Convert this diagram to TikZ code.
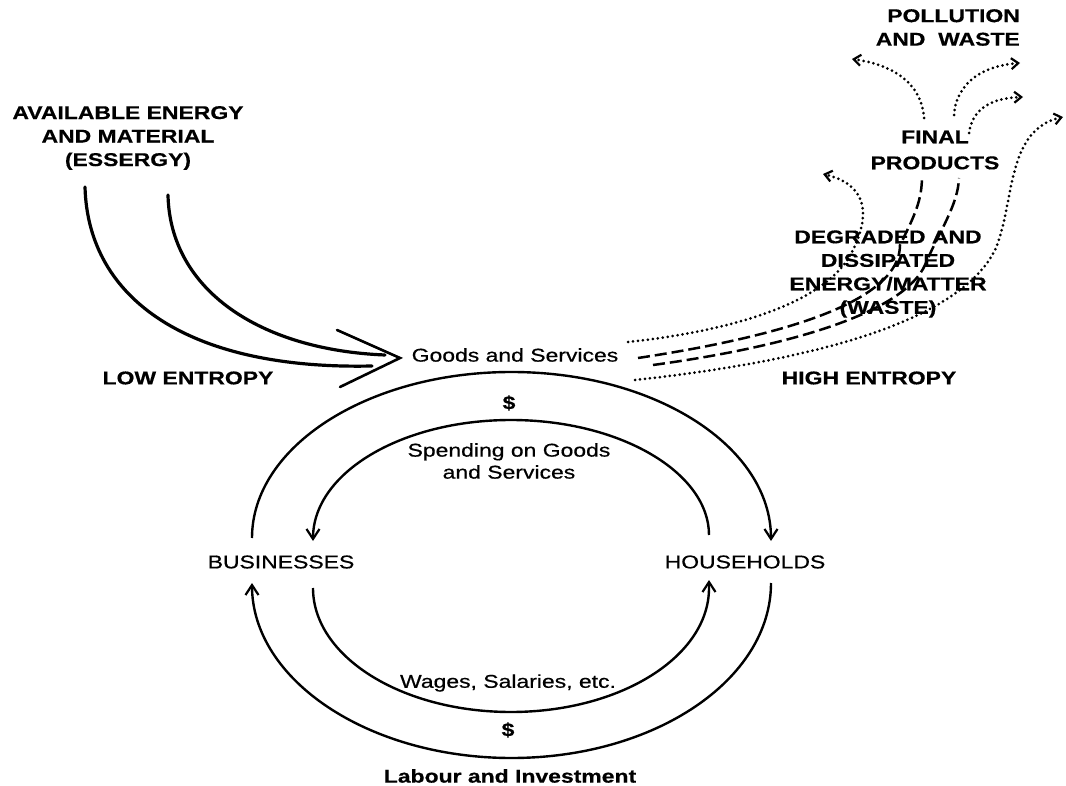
\documentclass[tikz,border=0pt]{standalone}
\usepackage{fontspec}
\setmainfont{Liberation Sans}[FakeStretch=1.24,BoldFeatures={FakeBold=0.5}]
\newfontfamily\heavyfont{Liberation Sans}[FakeStretch=1.24,FakeBold=0.6]
\usetikzlibrary{arrows.meta}
\begin{document}
\begin{tikzpicture}[x=1pt,y=-1pt,
  lbl/.style={font=\fontsize{18.5}{23.5}\selectfont\bfseries,align=center,inner sep=0pt},
  txt/.style={font=\fontsize{18.5}{22}\selectfont\heavyfont,align=center,inner sep=0pt},
  inflow/.style={line width=3.2pt,line cap=round},
  chev/.style={line width=2.6pt,line cap=round,line join=miter},
  loop/.style={line width=2.4pt,-{Straight Barb[length=10pt,width=13pt,line width=2.2pt]}},
  dotline/.style={line width=3pt,line cap=round,dash pattern=on 0pt off 5pt,-{Straight Barb[length=7pt,width=11pt,line width=2.2pt]}},
  dashline/.style={line width=2.5pt,dash pattern=on 12pt off 5pt},
]
\useasboundingbox (0,0) rectangle (1066,786);

% text nodes
\node[lbl] (avail) at (128,138) {AVAILABLE ENERGY\\AND MATERIAL\\(ESSERGY)};
\node[lbl] (low) at (188,378) {LOW ENTROPY};
\node[txt] (goods) at (515,355) {Goods and Services};
\node[lbl] (high) at (869,378) {HIGH ENTROPY};
\node[lbl,align=right,anchor=east] (poll) at (1020,27.5) {POLLUTION\\AND\ \ WASTE};
\node[lbl,font=\fontsize{18.5}{26}\selectfont\bfseries] (final) at (935,150) {FINAL\\PRODUCTS};
\node[lbl] (degr) at (888,274) {DEGRADED AND\\DISSIPATED\\ENERGY/MATTER\\(WASTE)};
\node[lbl] (d1) at (509,403) {\$};
\node[txt] (spend) at (509,461) {Spending on Goods\\and Services};
\node[txt] (bus) at (281,562) {BUSINESSES};
\node[txt] (hh) at (745,562) {HOUSEHOLDS};
\node[txt] (wages) at (508,683) {Wages, Salaries, etc.};
\node[lbl] (d2) at (508,730) {\$};
\node[lbl] (labour) at (510,776) {Labour and Investment};

% inflow of low-entropy energy
\coordinate (srcA) at (85,187);
\coordinate (srcB) at (168,195);
\coordinate (tip) at (400,358);
\coordinate (chevU) at (337,330);
\coordinate (chevL) at (340,387);
\draw[inflow] (srcA) .. controls (88,300) and (190,370) .. (372,366);
\draw[inflow] (srcB) .. controls (170,290) and (260,350) .. (385,355);
\draw[chev] (chevU) -- (tip) -- (chevL);

% circular flow
\draw[loop] (252,538) .. controls (252,446.3) and (368.2,372) .. (511.5,372)
  .. controls (654.8,372) and (771,446.3) .. (771,538) -- (771,541);
\draw[loop] (709,535) .. controls (709,472.8) and (620.4,420) .. (511,420)
  .. controls (401.6,420) and (313,472.8) .. (313,538) -- (313,541);
\draw[loop] (313,588) .. controls (313,656.5) and (401.6,712) .. (511,712)
  .. controls (620.4,712) and (709,656.5) .. (709,588) -- (709,580);
\draw[loop] (771,583) .. controls (771,679.7) and (654.8,758) .. (511.5,758)
  .. controls (368.2,758) and (252,679.7) .. (252,586) -- (252,583);

% high-entropy outflows
\coordinate (oA) at (628,342);
\coordinate (oB) at (638,358);
\coordinate (oC) at (653,365);
\coordinate (oD) at (635,380);
\coordinate (wasteL) at (823,174);
\coordinate (fpA) at (922,176);
\coordinate (fpB) at (959,178);
\coordinate (wasteR) at (1063,117);
\draw[dotline] (oA) .. controls (740,330) and (830,300) .. (853,250)
  .. controls (870,215) and (868,185) .. (wasteL);
\draw[dashline] (oB) .. controls (790,335) and (900,300) .. (900,245)
  .. controls (915,215) and (922,200) .. (fpA);
\draw[dashline] (oC) .. controls (800,345) and (905,310) .. (925,265)
  .. controls (940,230) and (958,205) .. (fpB);
\draw[dotline] (oD) .. controls (820,360) and (960,320) .. (995,250)
  .. controls (1015,205) and (1005,130) .. (wasteR);

% pollution and waste from final products
\coordinate (p1s) at (924,118);
\coordinate (p1e) at (852,59);
\coordinate (p2s) at (954,115);
\coordinate (p2e) at (1020,63);
\coordinate (p3s) at (969,133);
\coordinate (p3e) at (1023,97);
\draw[dotline] (p1s) .. controls (922,85) and (895,65) .. (p1e);
\draw[dotline] (p2s) .. controls (956,85) and (980,66) .. (p2e);
\draw[dotline] (p3s) .. controls (972,110) and (990,98) .. (p3e);
\end{tikzpicture}
\end{document}
